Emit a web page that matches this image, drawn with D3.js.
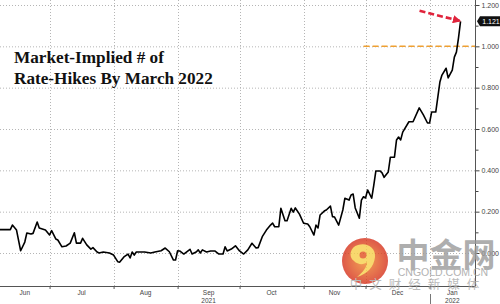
<!DOCTYPE html>
<html>

<head>
    <meta charset="utf-8">
    <script src="https://d3js.org/d3.v7.min.js"></script>
    <style>
    body { margin: 0; background: #fff; }
    svg { display: block; font-family: "Liberation Sans", Arial, sans-serif; }
    </style>
</head>

<body>
    <div id="my_dataviz"></div>
    <script>
    // Market-implied number of rate hikes by March 2022
    var dates = [
        "2021-06-07", "2021-06-12", "2021-06-13", "2021-06-15", "2021-06-17", "2021-06-19", "2021-06-20",
        "2021-06-22", "2021-06-23", "2021-06-25", "2021-06-26", "2021-06-29", "2021-07-01", "2021-07-02",
        "2021-07-04", "2021-07-05", "2021-07-07", "2021-07-09", "2021-07-11", "2021-07-13", "2021-07-14",
        "2021-07-16", "2021-07-17", "2021-07-19", "2021-07-21", "2021-07-22", "2021-07-24", "2021-07-25",
        "2021-07-27", "2021-07-30", "2021-08-01", "2021-08-03", "2021-08-04", "2021-08-06", "2021-08-08",
        "2021-08-09", "2021-08-10", "2021-08-11", "2021-08-12", "2021-08-16", "2021-08-19", "2021-08-21",
        "2021-08-24", "2021-08-26", "2021-08-28", "2021-08-30", "2021-08-31", "2021-09-01", "2021-09-02",
        "2021-09-04", "2021-09-07", "2021-09-08", "2021-09-10", "2021-09-11", "2021-09-12", "2021-09-13",
        "2021-09-15", "2021-09-17", "2021-09-19", "2021-09-21", "2021-09-23", "2021-09-24", "2021-09-25",
        "2021-09-27", "2021-09-29", "2021-10-01", "2021-10-03", "2021-10-05", "2021-10-07", "2021-10-09",
        "2021-10-10", "2021-10-12", "2021-10-14", "2021-10-16", "2021-10-17", "2021-10-18", "2021-10-20",
        "2021-10-21", "2021-10-23", "2021-10-24", "2021-10-26", "2021-10-27", "2021-10-28", "2021-10-30",
        "2021-11-01", "2021-11-03", "2021-11-04", "2021-11-06", "2021-11-07", "2021-11-08", "2021-11-09",
        "2021-11-11", "2021-11-12", "2021-11-14", "2021-11-15", "2021-11-16", "2021-11-18", "2021-11-20",
        "2021-11-21", "2021-11-23", "2021-11-24", "2021-11-25", "2021-11-26", "2021-11-28", "2021-11-29",
        "2021-11-30", "2021-12-01", "2021-12-02", "2021-12-04", "2021-12-05", "2021-12-06", "2021-12-08",
        "2021-12-09", "2021-12-10", "2021-12-12", "2021-12-13", "2021-12-15", "2021-12-16", "2021-12-17",
        "2021-12-18", "2021-12-19", "2021-12-22", "2021-12-24", "2021-12-27", "2021-12-29", "2021-12-31",
        "2022-01-01", "2022-01-02", "2022-01-04", "2022-01-06", "2022-01-07", "2022-01-09", "2022-01-10",
        "2022-01-12", "2022-01-13", "2022-01-14", "2022-01-15", "2022-01-16"
    ];
    var hikes = [
        0.113, 0.113, 0.135, 0.111, 0.011, 0.053, 0.097,
        0.092, 0.095, 0.150, 0.121, 0.111, 0.087, 0.108,
        0.068, 0.063, 0.030, 0.034, 0.048, 0.098, 0.048,
        0.048, 0.071, 0.039, 0.019, 0.026, 0.005, 0.000,
        0.005, 0.000, -0.010, -0.042, -0.044, -0.019, -0.005,
        -0.024, 0.005, -0.010, 0.005, 0.005, 0.000, 0.005,
        0.011, 0.024, 0.006, -0.034, -0.034, 0.011, 0.010,
        -0.005, 0.018, -0.005, 0.005, 0.015, 0.000, 0.015,
        0.005, 0.010, 0.010, -0.005, -0.005, 0.030, 0.010,
        0.019, 0.035, 0.010, -0.005, 0.015, 0.047, 0.024,
        0.026, 0.079, 0.111, 0.135, 0.145, 0.127, 0.127,
        0.216, 0.156, 0.156, 0.216, 0.198, 0.218, 0.188,
        0.144, 0.140, 0.127, 0.087, 0.135, 0.121, 0.184,
        0.203, 0.208, 0.227, 0.176, 0.174, 0.135, 0.208,
        0.265, 0.256, 0.281, 0.285, 0.218, 0.168, 0.256,
        0.272, 0.266, 0.305, 0.265, 0.329, 0.397, 0.397,
        0.388, 0.366, 0.392, 0.463, 0.464, 0.547, 0.561,
        0.547, 0.585, 0.635, 0.635, 0.702, 0.668, 0.629,
        0.629, 0.682, 0.682, 0.827, 0.861, 0.894, 0.847,
        0.885, 0.948, 0.972, 1.040, 1.121
    ];
    var majorTicks = [0, 0.2, 0.4, 0.6, 0.8, 1.0, 1.2];
    var minorTicks = [0.1, 0.3, 0.5, 0.7, 0.9, 1.1];
    var monthStarts = ["2021-07-01", "2021-08-01", "2021-09-01", "2021-10-01", "2021-11-01", "2021-12-01", "2022-01-01"];
    var monthNames = ["Jun", "Jul", "Aug", "Sep", "Oct", "Nov", "Dec", "Jan"];
    var years = [{ label: "2021", month: "Sep" }, { label: "2022", month: "Jan" }];
    var target = 1.0;
    var lastValue = 1.121;

    var width = 500, height = 304;
    var plotRight = 475, axisY = 286;
    var parse = d3.timeParse("%Y-%m-%d");

    var data = dates.map(function(d, i) { return { date: parse(d), v: hikes[i] }; });

    var x = d3.scaleTime()
        .domain([parse("2021-06-07"), parse("2022-01-23")])
        .range([0, plotRight]);
    var y = d3.scaleLinear()
        .domain([0, 1.2])
        .range([253, 5]);

    var svg = d3.select("#my_dataviz")
        .append("svg")
        .attr("width", width)
        .attr("height", height);

    // grid
    svg.append("g").selectAll("line")
        .data(majorTicks)
        .enter()
        .append("line")
        .attr("x1", 0).attr("x2", plotRight)
        .attr("y1", function(d) { return y(d) + 0.5; })
        .attr("y2", function(d) { return y(d) + 0.5; })
        .style("stroke", "#b5b5b5")
        .style("stroke-dasharray", "1,2");

    var starts = monthStarts.map(parse);
    svg.append("g").selectAll("line")
        .data(starts)
        .enter()
        .append("line")
        .attr("x1", function(d) { return Math.round(x(d)) + 0.5; })
        .attr("x2", function(d) { return Math.round(x(d)) + 0.5; })
        .attr("y1", 0).attr("y2", axisY)
        .style("stroke", "#b5b5b5")
        .style("stroke-dasharray", "1,2");

    // title
    var title = svg.append("text")
        .style("font-family", "'Liberation Serif', 'DejaVu Serif', serif")
        .style("font-weight", "bold")
        .style("font-size", "17.2px")
        .style("fill", "#111");
    title.append("tspan").attr("x", 14).attr("y", 63).text("Market-Implied # of");
    title.append("tspan").attr("x", 14).attr("y", 84).text("Rate-Hikes By March 2022");

    // target line at 1.0
    svg.append("line")
        .attr("x1", x(starts[5]) - 2).attr("x2", plotRight)
        .attr("y1", y(target)).attr("y2", y(target))
        .style("stroke", "#f0a030")
        .style("stroke-width", 1.5)
        .style("stroke-dasharray", "6,3");

    // series
    var line = d3.line()
        .x(function(d) { return x(d.date); })
        .y(function(d) { return y(d.v); });

    svg.append("path")
        .datum(data)
        .attr("d", line)
        .style("fill", "none")
        .style("stroke", "#000")
        .style("stroke-width", 1.6)
        .style("stroke-linejoin", "round");

    // red arrow
    var last = data[data.length - 1];
    svg.append("defs").append("marker")
        .attr("id", "head")
        .attr("viewBox", "0 0 10 10")
        .attr("refX", 8).attr("refY", 5)
        .attr("markerWidth", 3.2).attr("markerHeight", 3.2)
        .attr("orient", "auto")
        .append("path")
        .attr("d", "M0,0L10,5L0,10z")
        .style("fill", "#e0243c");
    svg.append("line")
        .attr("x1", x(last.date) - 41).attr("y1", y(last.v) - 10.5)
        .attr("x2", x(last.date) - 1).attr("y2", y(last.v) - 0.5)
        .style("stroke", "#e0243c")
        .style("stroke-width", 2.6)
        .style("stroke-dasharray", "6,3")
        .attr("marker-end", "url(#head)");

    // right axis
    var yAxis = svg.append("g")
        .attr("transform", "translate(" + (plotRight + 0.5) + ",0)")
        .call(d3.axisRight(y).tickValues(majorTicks).tickSize(4).tickPadding(2).tickFormat(d3.format(".3f")));
    yAxis.select(".domain").remove();
    yAxis.selectAll("text").style("font-size", "7px").style("fill", "#444");
    yAxis.selectAll("line").style("stroke", "#444");
    svg.append("g")
        .attr("transform", "translate(" + (plotRight + 0.5) + ",0)")
        .call(d3.axisRight(y).tickValues(minorTicks).tickSize(3).tickFormat(""))
        .call(function(g) { g.select(".domain").remove(); })
        .selectAll("line").style("stroke", "#444");
    svg.append("line")
        .attr("x1", plotRight + 0.5).attr("x2", plotRight + 0.5)
        .attr("y1", 0).attr("y2", axisY)
        .style("stroke", "#555");

    // bottom axis
    var xAxis = svg.append("g")
        .attr("transform", "translate(0," + axisY + ")")
        .call(d3.axisBottom(x).tickValues(starts).tickSize(3).tickFormat(""));
    xAxis.select(".domain").attr("d", "M0,0.5H" + (plotRight + 0.5)).style("stroke", "#555");
    xAxis.selectAll("line").style("stroke", "#555");

    var bounds = [0].concat(starts.map(x)).concat([plotRight]);
    var monthCenters = monthNames.map(function(m, i) { return (bounds[i] + bounds[i + 1]) / 2; });
    svg.append("g").selectAll("text")
        .data(monthNames)
        .enter()
        .append("text")
        .attr("x", function(d, i) { return monthCenters[i]; })
        .attr("y", 295)
        .attr("text-anchor", "middle")
        .style("font-size", "6.5px")
        .style("fill", "#444")
        .text(function(d) { return d; });
    svg.append("g").selectAll("text")
        .data(years)
        .enter()
        .append("text")
        .attr("x", function(d) { return monthCenters[monthNames.indexOf(d.month)]; })
        .attr("y", 302.5)
        .attr("text-anchor", "middle")
        .style("font-size", "6.5px")
        .style("fill", "#444")
        .text(function(d) { return d.label; });
    svg.append("line")
        .attr("x1", Math.round(x(starts[6])) + 0.5).attr("x2", Math.round(x(starts[6])) + 0.5)
        .attr("y1", 294).attr("y2", 304)
        .style("stroke", "#777");

    // last value tag
    var tag = svg.append("g").attr("transform", "translate(" + (plotRight + 2) + "," + y(lastValue) + ")");
    tag.append("path")
        .attr("d", "M0,0L3,-5H25V5H3Z")
        .style("fill", "#111");
    tag.append("text")
        .attr("x", 14).attr("y", 2.5)
        .attr("text-anchor", "middle")
        .style("font-size", "7px")
        .style("fill", "#fff")
        .text(lastValue.toFixed(3));

    // watermark
    var wm = svg.append("g").style("opacity", 0.8);
    var grad = svg.select("defs").append("radialGradient").attr("id", "logo");
    grad.append("stop").attr("offset", "0%").attr("stop-color", "#f08a2a");
    grad.append("stop").attr("offset", "100%").attr("stop-color", "#d6301c");
    wm.append("circle").attr("cx", 365).attr("cy", 261).attr("r", 23).style("fill", "url(#logo)");
    wm.append("path")
        .attr("d", "M354,261c-6,-4,-4,-14,4,-16c8,-3,18,2,17,12c-1,10,-8,17,-18,20c6,-5,10,-10,10,-15c-3,3,-9,3,-13,-1z")
        .style("fill", "#f7cf4a");
    wm.append("circle").attr("cx", 363).attr("cy", 255).attr("r", 3.5).style("fill", "#e2501f");
    wm.append("text")
        .attr("x", 446).attr("y", 267)
        .attr("text-anchor", "middle")
        .style("font-family", "'Noto Sans CJK SC', sans-serif")
        .style("font-weight", "bold")
        .style("font-size", "33px")
        .style("fill", "#9a9a9a")
        .text("中金网");
    wm.append("text")
        .attr("x", 443).attr("y", 276)
        .attr("text-anchor", "middle")
        .style("font-size", "10.5px")
        .style("fill", "#a0a0a0")
        .text("CNGOLD.COM.CN");
    wm.append("text")
        .attr("x", 418).attr("y", 289)
        .attr("text-anchor", "middle")
        .style("font-family", "'Noto Sans CJK SC', sans-serif")
        .style("font-size", "12.5px")
        .style("letter-spacing", "7px")
        .style("fill", "#ababab")
        .text("中文财经新媒体");
    </script>
</body>

</html>
